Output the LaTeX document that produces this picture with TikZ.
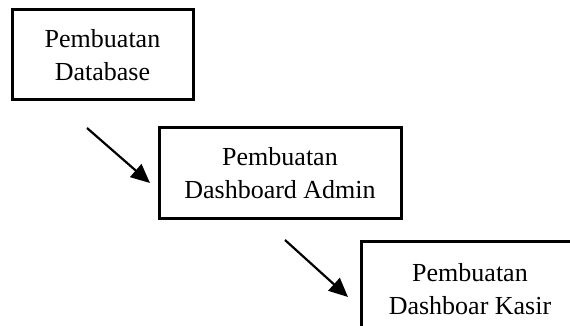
\documentclass[tikz,border=0pt]{standalone}
\usepackage{fontspec}
\setmainfont{Liberation Serif}
\usetikzlibrary{arrows.meta}
\begin{document}
\begin{tikzpicture}[x=1pt,y=-1pt,
  stepbox/.style={draw=black,line width=3pt,rectangle,align=center,inner sep=0pt,
    font=\fontsize{26}{33}\selectfont},
  flow/.style={line width=2.2pt,-{Triangle[length=19pt,width=17pt]}}]
\useasboundingbox (0,0) rectangle (570,326);
\clip (0,0) rectangle (570,326);
\node[stepbox,minimum width=181pt,minimum height=90pt] (b1) at (102.5,55) {Pembuatan\\Database};
\node[stepbox,minimum width=242pt,minimum height=90pt] (b2) at (280,173) {Pembuatan\\Dashboard Admin};
\node[stepbox,minimum width=218pt,minimum height=96pt] (b3) at (470,289) {Pembuatan\\Dashboar Kasir};
\coordinate (a1s) at (87,128);
\coordinate (a1e) at (150,183);
\coordinate (a2s) at (285,240);
\coordinate (a2e) at (348,297);
\draw[flow] (a1s) -- (a1e);
\draw[flow] (a2s) -- (a2e);
\end{tikzpicture}
\end{document}
